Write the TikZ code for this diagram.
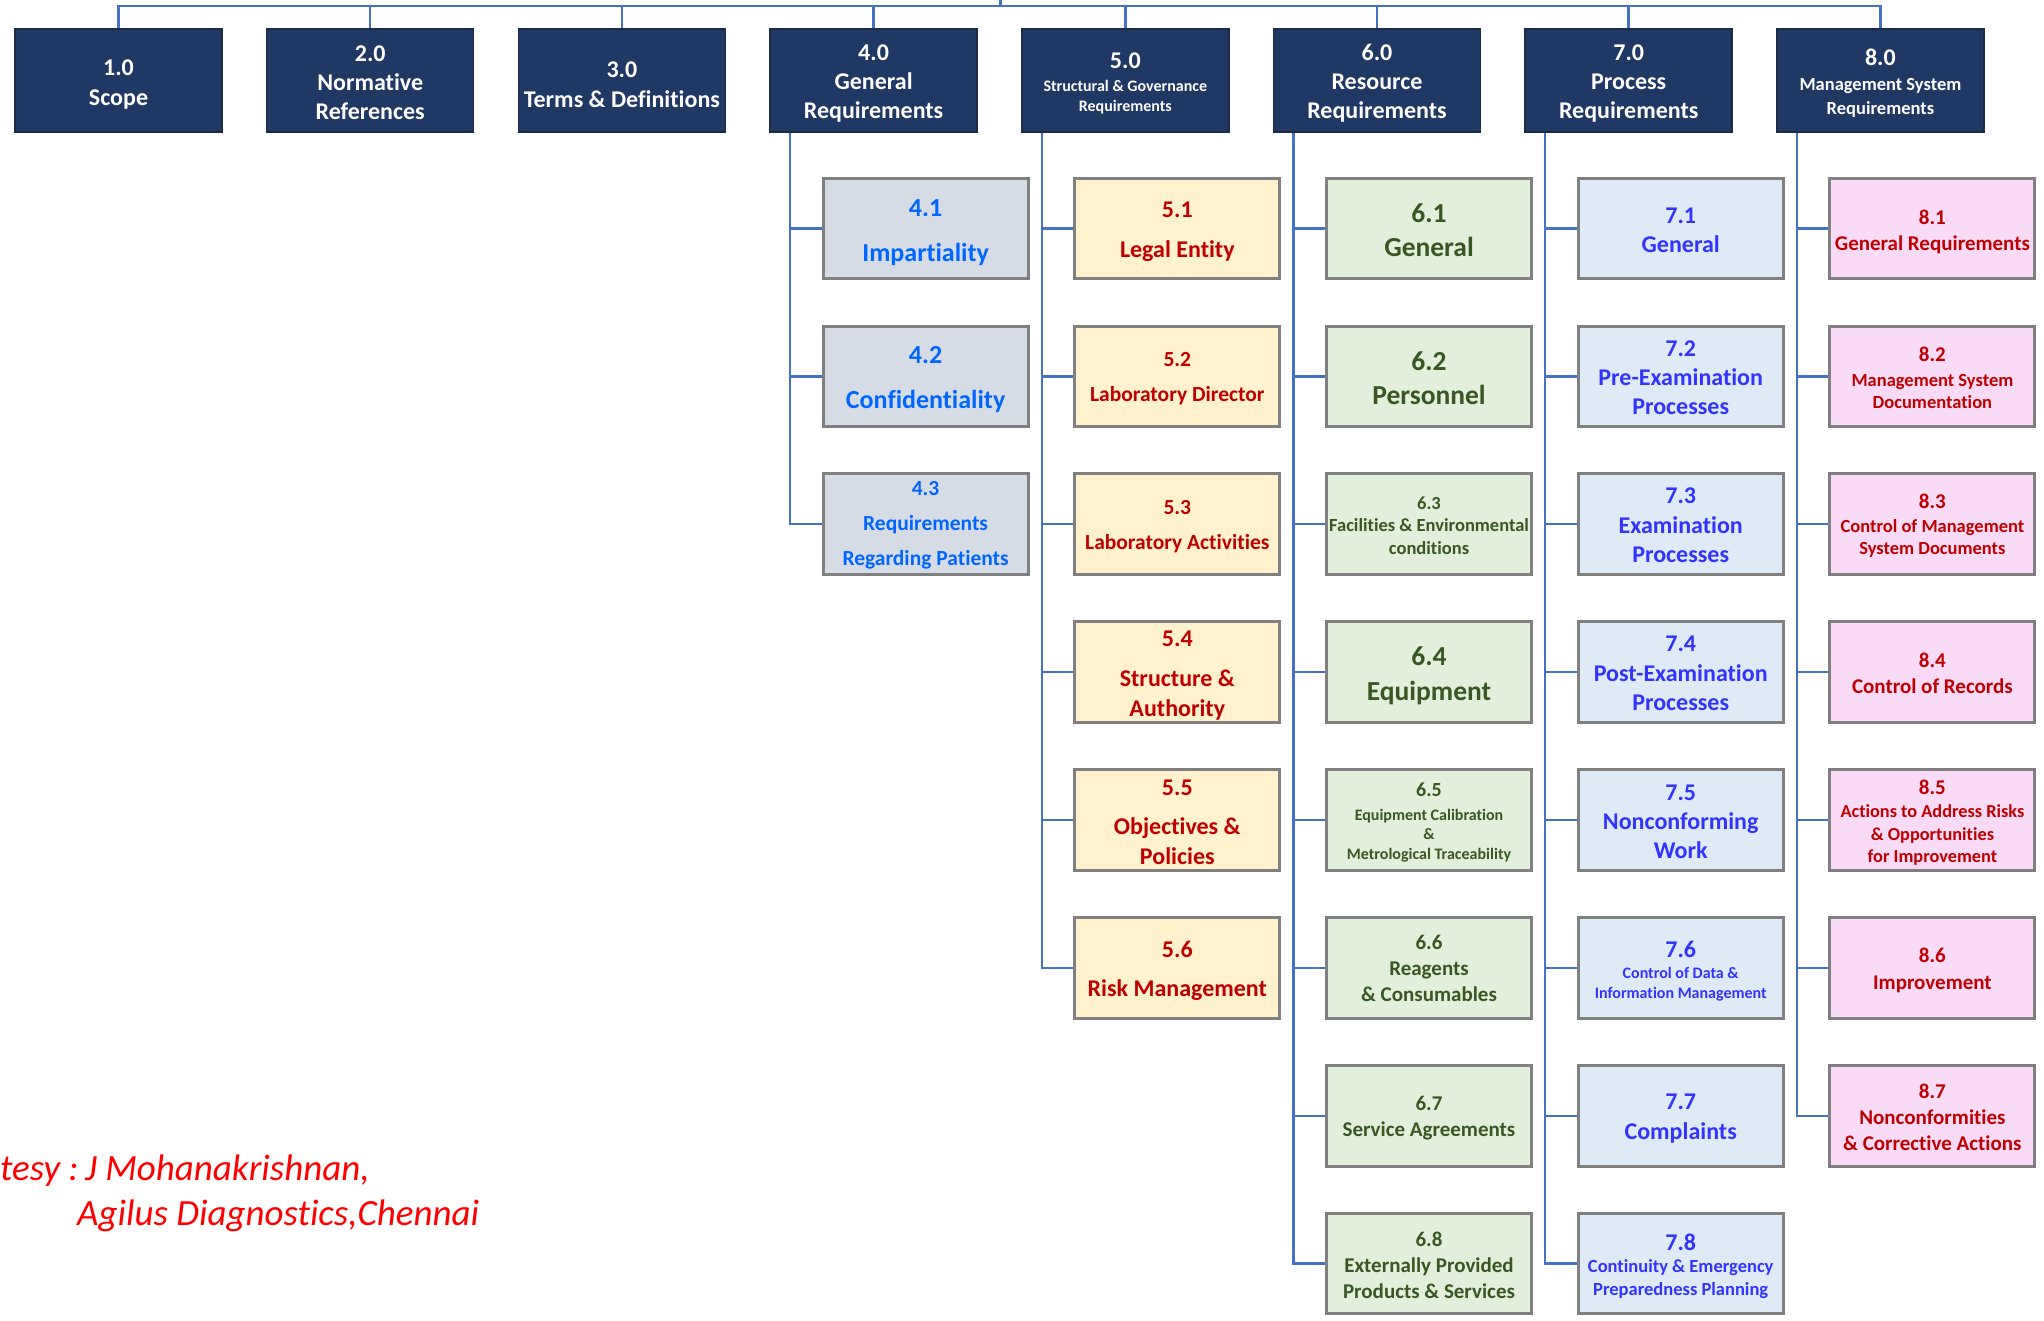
\documentclass[tikz,border=0pt]{standalone}
\usepackage{fontspec}
\setmainfont{Carlito}[Ligatures=CommonOff]
\newcommand\FS[2]{\fontsize{#1}{#2}\selectfont}
\definecolor{navy}{HTML}{203864}
\definecolor{navyline}{HTML}{1B2B48}
\definecolor{connblue}{HTML}{4472C4}
\definecolor{kidline}{HTML}{808080}
\definecolor{fillA}{HTML}{D6DCE5}
\definecolor{textA}{HTML}{0066FF}
\definecolor{fillB}{HTML}{FFF2CC}
\definecolor{textB}{HTML}{C00000}
\definecolor{fillC}{HTML}{E2EFDA}
\definecolor{textC}{HTML}{385723}
\definecolor{fillD}{HTML}{DEEBF7}
\definecolor{textD}{HTML}{3333FF}
\definecolor{fillE}{HTML}{F9DBF8}
\definecolor{textE}{HTML}{C00000}
\definecolor{textT}{HTML}{FFFFFF}
\definecolor{credit}{HTML}{FF0000}
\tikzset{
  conn/.style={draw=connblue, line width=2.5pt},
  topbox/.style={draw=navyline, fill=navy, line width=1.5pt, minimum width=207pt,
    minimum height=103pt, inner sep=0pt},
  kidbox/.style={draw=kidline, line width=3pt, minimum width=205pt, minimum height=100.5pt,
    inner sep=0pt},
  lbl/.style={inner sep=0pt, align=center},
  creditText/.style={anchor=base west, inner sep=0pt, text=credit, font=\itshape\FS{37}{42}}
}
% #1 name, #2 x, #3 size, #4 skip, #5 downshift, #6 text
\newcommand\TopB[6]{%
  \node[topbox] (#1) at (#2,80.5) {};
  \node[lbl, text=textT, font=\bfseries\FS{#3}{#4}] (#1t) at ([yshift=-#5pt]#1.center) {#6};}
% #1 group, #2 name, #3 x, #4 y, #5 size, #6 skip, #7 downshift, #8 text
\newcommand\Kid[8]{%
  \node[kidbox, fill=fill#1] (#2) at (#3,#4) {};
  \node[lbl, text=text#1, font=\bfseries\FS{#5}{#6}] (#2t) at ([yshift=-#7pt]#2.center) {#8};}
\begin{document}
\begin{tikzpicture}[x=1pt,y=-1pt]
\useasboundingbox (0,0) rectangle (2044,1320);
% top level
\TopB{t1}{118.5}{24}{30}{4.5}{1.0\\Scope}
\TopB{t2}{370.2}{24}{29}{2.5}{2.0\\Normative\\References}
\TopB{t3}{621.9}{24}{30}{4}{3.0\\Terms \& Definitions}
\TopB{t4}{873.6}{24}{29}{3}{4.0\\General\\Requirements}
\TopB{t5}{1125.3}{16}{19.6}{3}{\FS{24}{30}5.0\\[3.5pt]Structural \& Governance\\Requirements}
\TopB{t6}{1377.0}{24}{29}{3}{6.0\\Resource\\Requirements}
\TopB{t7}{1628.7}{24}{29}{3}{7.0\\Process\\Requirements}
\TopB{t8}{1880.4}{18.5}{23.6}{2.5}{\FS{24}{30}8.0\\[1.5pt]Management System\\Requirements}
% column 4
\Kid{A}{c41}{925.6}{228.4}{26}{44.6}{4}{4.1\\Impartiality}
\Kid{A}{c42}{925.6}{376.3}{26}{44.6}{3.5}{4.2\\Confidentiality}
\Kid{A}{c43}{925.6}{524.2}{21.5}{35}{1.5}{4.3\\Requirements\\Regarding Patients}
% column 5
\Kid{B}{c51}{1177.3}{228.4}{24}{40}{3}{5.1\\Legal Entity}
\Kid{B}{c52}{1177.3}{376.3}{21.5}{35}{2.5}{5.2\\Laboratory Director}
\Kid{B}{c53}{1177.3}{524.2}{21.5}{35}{2.5}{5.3\\Laboratory Activities}
\Kid{B}{c54}{1177.3}{672.1}{24}{30}{3}{5.4\\[10pt]Structure \&\\Authority}
\Kid{B}{c55}{1177.3}{820.0}{24}{30}{2.5}{5.5\\[9pt]Objectives \&\\Policies}
\Kid{B}{c56}{1177.3}{967.9}{24}{39}{2.5}{5.6\\Risk Management}
% column 6
\Kid{C}{c61}{1429.0}{228.4}{27.5}{34}{1.5}{6.1\\General}
\Kid{C}{c62}{1429.0}{376.3}{27.5}{34}{1.5}{6.2\\Personnel}
\Kid{C}{c63}{1429.0}{524.2}{18.5}{22.5}{1.5}{6.3\\Facilities \& Environmental\\conditions}
\Kid{C}{c64}{1429.0}{672.1}{27.5}{35}{3.5}{6.4\\Equipment}
\Kid{C}{c65}{1429.0}{820.0}{16}{19.6}{2.5}{\FS{20}{24}6.5\\[4pt]Equipment Calibration\\\&\\Metrological Traceability}
\Kid{C}{c66}{1429.0}{967.9}{21}{26}{0.5}{6.6\\Reagents\\\& Consumables}
\Kid{C}{c67}{1429.0}{1115.8}{21}{26}{2.5}{6.7\\Service Agreements}
\Kid{C}{c68}{1429.0}{1263.7}{21}{26}{1.5}{6.8\\Externally Provided\\Products \& Services}
% column 7
\Kid{D}{c71}{1680.7}{228.4}{24}{29}{1.5}{7.1\\General}
\Kid{D}{c72}{1680.7}{376.3}{24}{29}{1.5}{7.2\\Pre-Examination\\Processes}
\Kid{D}{c73}{1680.7}{524.2}{24}{29.5}{1.5}{7.3\\Examination\\Processes}
\Kid{D}{c74}{1680.7}{672.1}{24}{29.5}{1.5}{7.4\\Post-Examination\\Processes}
\Kid{D}{c75}{1680.7}{820.0}{24}{29}{1.5}{7.5\\Nonconforming\\Work}
\Kid{D}{c76}{1680.7}{967.9}{16}{19.5}{3}{\FS{24}{30}7.6\\[1.5pt]Control of Data \&\\Information Management}
\Kid{D}{c77}{1680.7}{1115.8}{24}{30}{2.5}{7.7\\Complaints}
\Kid{D}{c78}{1680.7}{1263.7}{18.5}{23}{3}{\FS{24}{30}7.8\\[-1pt]Continuity \& Emergency\\Preparedness Planning}
% column 8
\Kid{E}{c81}{1932.4}{228.4}{21}{26}{3}{8.1\\General Requirements}
\Kid{E}{c82}{1932.4}{376.3}{18.5}{22}{1.5}{\FS{21}{26}8.2\\[3pt]Management System\\Documentation}
\Kid{E}{c83}{1932.4}{524.2}{18.5}{22}{1.5}{\FS{21}{26}8.3\\[2.5pt]Control of Management\\System Documents}
\Kid{E}{c84}{1932.4}{672.1}{21}{26}{1.5}{8.4\\Control of Records}
\Kid{E}{c85}{1932.4}{820.0}{18.3}{23}{2.5}{\FS{21}{26}8.5\\Actions to Address Risks\\\& Opportunities\\[-1pt]for Improvement}
\Kid{E}{c86}{1932.4}{967.9}{21}{27}{2.5}{8.6\\Improvement}
\Kid{E}{c87}{1932.4}{1115.8}{21}{26}{1.5}{8.7\\Nonconformities\\\& Corrective Actions}
% top bus
\coordinate (bus) at (1000.5,6);
\coordinate (busTop) at (1000.5,0);
\draw[conn] (busTop) -- (bus);
\foreach \i in {1,...,8} {\draw[conn] (t\i.north) |- (bus);}
% child connectors
\foreach \i in {1,2,3} {\draw[conn] ([xshift=20.75pt]t4.south west) |- (c4\i.west);}
\foreach \i in {1,...,6} {\draw[conn] ([xshift=20.75pt]t5.south west) |- (c5\i.west);}
\foreach \i in {1,...,8} {\draw[conn] ([xshift=20.75pt]t6.south west) |- (c6\i.west);}
\foreach \i in {1,...,8} {\draw[conn] ([xshift=20.75pt]t7.south west) |- (c7\i.west);}
\foreach \i in {1,...,7} {\draw[conn] ([xshift=20.75pt]t8.south west) |- (c8\i.west);}
% credit
\node[creditText] (cr1) at (0,1180) {tesy :\hspace{-0.12em} J Mohanakrishnan,};
\node[creditText] (cr2) at (77,1225) {Agilus Diagnostics,Chennai};
\end{tikzpicture}
\end{document}
